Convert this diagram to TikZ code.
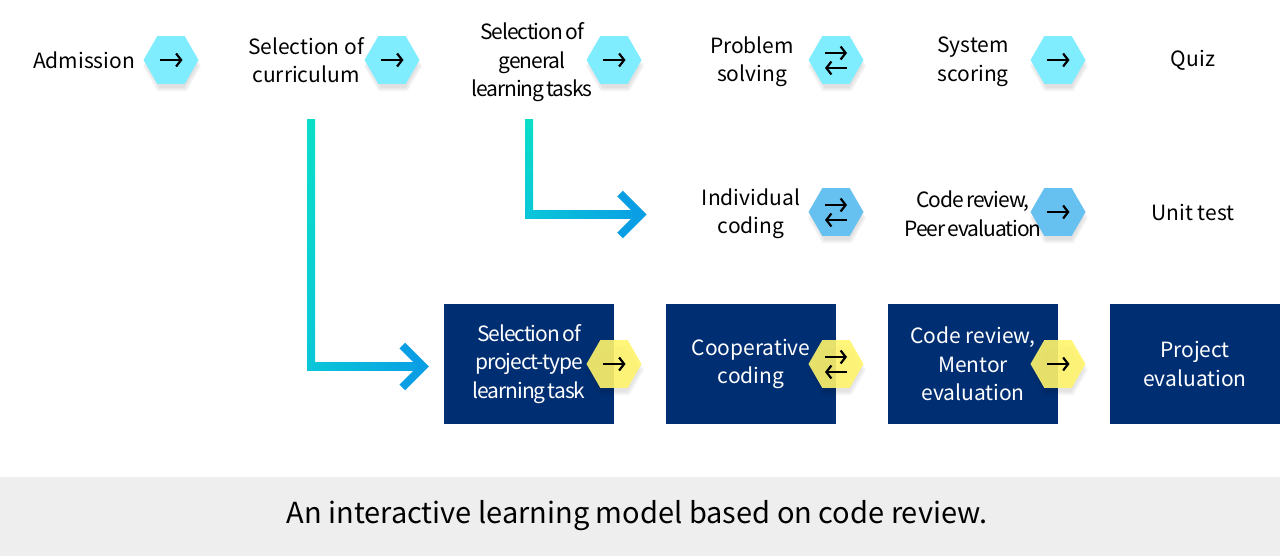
\documentclass[tikz,border=0pt]{standalone}
\usepackage{fontspec}
\setmainfont{Noto Sans CJK KR}
\newfontfamily\tightfont{Noto Sans CJK KR}[LetterSpace=-5,WordSpace=0.6]
\usetikzlibrary{shapes.geometric,arrows.meta,calc,shadows.blur}

\definecolor{hexcyan}{HTML}{80EDFF}
\definecolor{hexsky}{HTML}{66C1F0}
\definecolor{hexyellow}{HTML}{FFF56C}
\definecolor{boxnavy}{HTML}{002E72}
\definecolor{footgray}{HTML}{EEEEEE}
\definecolor{linkturq}{HTML}{0BDEC8}
\definecolor{linkmid}{HTML}{0AC7D8}
\definecolor{linkblue}{HTML}{0A9FE4}

\tikzset{
  steptext/.style={align=center, font=\fontsize{21}{28.5}\selectfont},
  tight/.style={font=\tightfont\fontsize{21}{28.5}\selectfont},
  hexbase/.style={regular polygon, regular polygon sides=6, minimum size=55pt, inner sep=0pt,
    blur shadow={shadow xshift=1pt, shadow yshift=-6pt, shadow opacity=12, shadow blur steps=10}},
  hexone/.style={hexbase, fill=hexcyan},
  hextwo/.style={hexbase, fill=hexsky},
  hexthree/.style={hexbase, fill=hexyellow, fill opacity=0.9},
  projbox/.style={steptext, fill=boxnavy, text=white, minimum width=170pt, minimum height=120pt, inner sep=0pt},
  sym/.style={line width=2.2pt, -{Straight Barb[length=5pt,width=13pt]}},
  chevron/.style={linkblue, line width=8pt},
}

\begin{document}
\begin{tikzpicture}[x=1pt, y=-1pt]
            \useasboundingbox (0, 0) rectangle (1280, 556);
            %\draw[lightgray] (0, 0) grid[step=40] (1280, 556);
            \fill[footgray] (0, 477) rectangle (1280, 556);
            \node[font=\fontsize{29}{35}\selectfont] (caption) at (637, 516) {An interactive learning model based on code review.};

            % project-type boxes
            \node[projbox, tight] (ptask) at (529, 364) {Selection of\\project-type\\learning task};
            \node[projbox] (coop) at (751, 364) {Cooperative\\coding};
            \node[projbox] (mentor) at (973, 364) {Code review,\\Mentor\\evaluation};
            \node[projbox] (peval) at (1195, 364) {Project\\evaluation};

            % hexagons
            \node[hexone] (ha) at (171, 60) {};
            \node[hexone] (hb) at (392, 60) {};
            \node[hexone] (hc) at (614, 60) {};
            \node[hexone] (hd) at (836, 60) {};
            \node[hexone] (he) at (1058, 60) {};
            \node[hextwo] (hf) at (836, 212) {};
            \node[hextwo] (hg) at (1058, 212) {};
            \node[hexthree] (hh) at (614, 364) {};
            \node[hexthree] (hi) at (836, 364) {};
            \node[hexthree] (hj) at (1058, 364) {};

            % general track
            \node[steptext] (adm) at (84, 60) {Admission};
            \node[steptext] (cur) at (306, 60) {Selection of\\curriculum};
            \node[steptext, tight] (gen) at (532, 62.5) {Selection of\\general\\learning tasks};
            \node[steptext] (prob) at (752, 62) {Problem\\solving};
            \node[steptext] (sys) at (973, 62) {System\\scoring};
            \node[steptext] (quiz) at (1193, 60) {Quiz};

            % coding track
            \node[steptext] (indiv) at (751, 214) {Individual\\coding};
            \node[steptext, tight] (peer) at (973, 214) {Code review,\\Peer evaluation};
            \node[steptext] (unit) at (1193, 212) {Unit test};

            % arrows inside hexagons
            \draw[sym] ($(ha)+(-11.5, 0)$) -- ($(ha)+(11.5, 0)$);
            \draw[sym] ($(hb)+(-11.5, 0)$) -- ($(hb)+(11.5, 0)$);
            \draw[sym] ($(hc)+(-11.5, 0)$) -- ($(hc)+(11.5, 0)$);
            \draw[sym] ($(hd)+(-11, -7)$) -- ($(hd)+(11, -7)$);
            \draw[sym] ($(hd)+(11, 8)$) -- ($(hd)+(-11, 8)$);
            \draw[sym] ($(he)+(-11.5, 0)$) -- ($(he)+(11.5, 0)$);
            \draw[sym] ($(hf)+(-11, -7)$) -- ($(hf)+(11, -7)$);
            \draw[sym] ($(hf)+(11, 8)$) -- ($(hf)+(-11, 8)$);
            \draw[sym] ($(hg)+(-11.5, 0)$) -- ($(hg)+(11.5, 0)$);
            \draw[sym] ($(hh)+(-11.5, 0)$) -- ($(hh)+(11.5, 0)$);
            \draw[sym] ($(hi)+(-11, -7)$) -- ($(hi)+(11, -7)$);
            \draw[sym] ($(hi)+(11, 8)$) -- ($(hi)+(-11, 8)$);
            \draw[sym] ($(hj)+(-11.5, 0)$) -- ($(hj)+(11.5, 0)$);

            % branch from curriculum to project-type task
            \coordinate (curtail) at (311, 120);
            \coordinate (ptip) at ($(ptask.west)+(-20.5, 2.5)$);
            \shade[top color=linkturq, bottom color=linkmid] ($(curtail)+(-4, 0)$) rectangle ($(curtail |- ptip)+(4, 4)$);
            \shade[left color=linkmid, right color=linkblue] ($(curtail |- ptip)+(-4, -4)$) rectangle ($(ptip)+(0, 4)$);
            \draw[chevron] ($(ptip)+(-21, -21)$) -- (ptip) -- ($(ptip)+(-21, 21)$);

            % branch from general tasks to individual coding
            \coordinate (gentail) at (529, 120);
            \coordinate (itip) at (641, 214.5);
            \shade[top color=linkturq, bottom color=linkmid] ($(gentail)+(-4, 0)$) rectangle ($(gentail |- itip)+(4, 4)$);
            \shade[left color=linkmid, right color=linkblue] ($(gentail |- itip)+(-4, -4)$) rectangle ($(itip)+(0, 4)$);
            \draw[chevron] ($(itip)+(-21, -21)$) -- (itip) -- ($(itip)+(-21, 21)$);
        \end{tikzpicture}
\end{document}
